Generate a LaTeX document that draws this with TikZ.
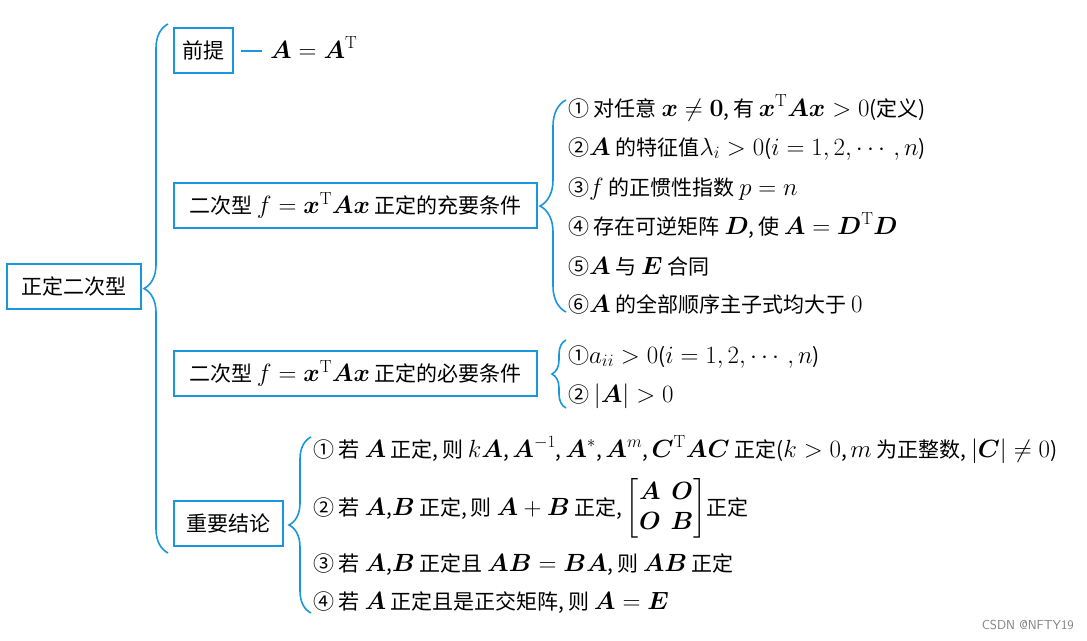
\documentclass[tikz,border=0pt]{standalone}
\usepackage{amsmath}
\usepackage{bm}
\usepackage{fontspec}
\newfontfamily\cjk[Scale=0.84]{Noto Sans CJK SC}
\usetikzlibrary{decorations.pathreplacing}
\definecolor{mapblue}{RGB}{25,150,220}

\tikzset{
  topic/.style={draw=mapblue, line width=2pt, inner sep=0pt, minimum height=45pt,
                font=\cjk\fontsize{25}{30}\selectfont},
  cond/.style={anchor=base west, inner sep=0pt, font=\cjk\fontsize{25}{30}\selectfont},
  curly/.style={draw=mapblue, line width=1.6pt, decorate,
                decoration={brace, amplitude=#1}},
  curly/.default=20pt
}

\begin{document}
\begin{tikzpicture}[x=1pt,y=-1pt]
\useasboundingbox (0,0) rectangle (1087,640);

% topics
\node[topic, minimum width=134pt] (root) at (74,286) {正定二次型};
\node[topic, minimum width=59pt] (premise) at (203.5,50.5) {前提};
\node[topic, minimum width=363pt] (suff) at (355.5,205) {二次型 $f=\bm x^{\mathrm T}\bm A\bm x$ 正定的充要条件};
\node[topic, minimum width=363pt] (nec) at (355.5,373) {二次型 $f=\bm x^{\mathrm T}\bm A\bm x$ 正定的必要条件};
\node[topic, minimum width=109pt] (concl) at (228.5,523) {重要结论};

% braces
\coordinate (rootT) at (168,24);
\coordinate (rootB) at (168,553);
\draw[curly=24pt] (rootB) -- (rootT);
\coordinate (suffT) at (566,100);
\coordinate (suffB) at (566,312);
\draw[curly=26pt] (suffB) -- (suffT);
\coordinate (necT) at (566,340);
\coordinate (necB) at (566,408);
\draw[curly=14pt] (necB) -- (necT);
\coordinate (conclT) at (311,437);
\coordinate (conclB) at (311,613);
\draw[curly=22pt] (conclB) -- (conclT);

% premise
\node[cond] (premiseeq) at (270,58) {$\bm A=\bm A^{\mathrm T}$};
\draw[mapblue, line width=2pt, shorten <=7pt, shorten >=8pt]
  (premise.east) -- (premise.east -| premiseeq.west);

% sufficient and necessary
\node[cond] (s1) at (568,116) {① 对任意 $\bm x\neq\bm 0$,\,有 $\bm x^{\mathrm T}\bm A\bm x>0$(定义)};
\node[cond] (s2) at (568,155) {②$\bm A$ 的特征值$\lambda_i>0$($i=1,2,\cdots,n$)};
\node[cond] (s3) at (568,195) {③$f$ 的正惯性指数 $p=n$};
\node[cond] (s4) at (568,234) {④ 存在可逆矩阵 $\bm D$,\,使 $\bm A=\bm D^{\mathrm T}\bm D$};
\node[cond] (s5) at (568,274) {⑤$\bm A$ 与 $\bm E$ 合同};
\node[cond] (s6) at (568,312) {⑥$\bm A$ 的全部顺序主子式均大于 $0$};

% necessary
\node[cond] (n1) at (568,363) {①$a_{ii}>0$($i=1,2,\cdots,n$)};
\node[cond] (n2) at (568,402) {② $|\bm A|>0$};

% conclusions
\node[cond] (c1) at (313,457) {① 若 $\bm A$ 正定,\,则 $k\bm A$,\,$\bm A^{-1}$,\,$\bm A^*$,\,$\bm A^m$,\,$\bm C^{\mathrm T}\bm A\bm C$ 正定($k>0$,\,$m$ 为正整数, $|\bm C|\neq0$)};
\node[cond] (c2) at (313,515) {② 若 $\bm A$,$\bm B$ 正定,\,则 $\bm A+\bm B$ 正定,\,$\begin{bmatrix}\bm A&\bm O\\\bm O&\bm B\end{bmatrix}$正定};
\node[cond] (c3) at (313,571) {③ 若 $\bm A$,$\bm B$ 正定且 $\bm{AB}=\bm{BA}$,\,则 $\bm{AB}$ 正定};
\node[cond] (c4) at (313,609) {④ 若 $\bm A$ 正定且是正交矩阵,\,则 $\bm A=\bm E$};

\node[anchor=east, text=gray, inner sep=0pt, font=\sffamily\fontsize{13}{15}\selectfont] (mark) at (1074,625) {CSDN @NFTY19};
\end{tikzpicture}
\end{document}
